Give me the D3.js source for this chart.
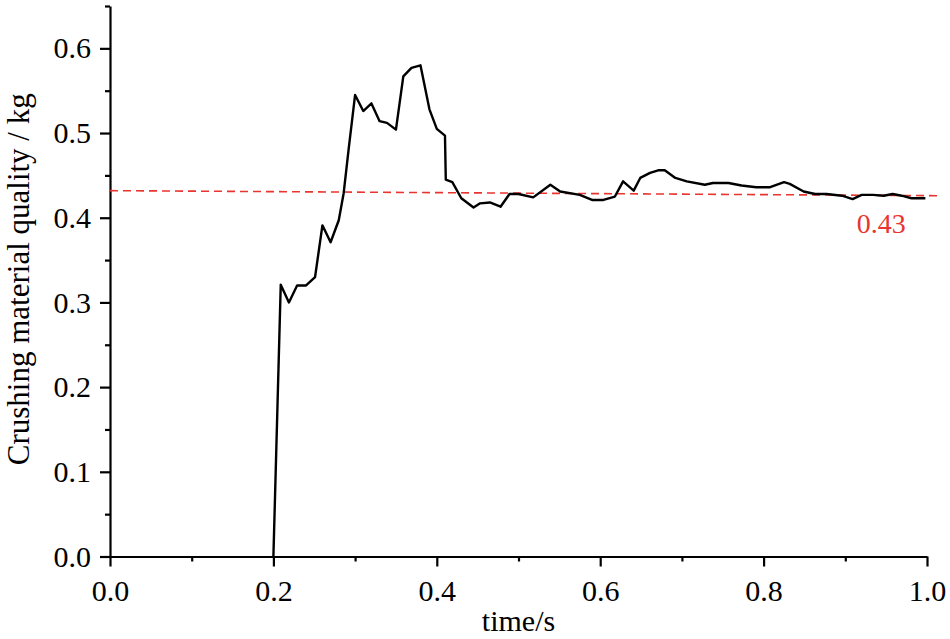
<!DOCTYPE html>
<html>
<head>
<meta charset="utf-8">
<script src="https://cdn.jsdelivr.net/npm/d3@7/dist/d3.min.js"></script>
<style>
  html, body { margin: 0; padding: 0; background: #fff; }
  svg { display: block; }
  svg text { font-family: "Times New Roman", Times, "Liberation Serif", "DejaVu Serif", serif !important; }
</style>
</head>
<body>
<svg id="chart" width="950" height="639"></svg>
<script>
// ---- data ----
const times = [0.200, 0.209, 0.219, 0.229, 0.240, 0.251, 0.260, 0.270, 0.280, 0.286,
  0.292, 0.300, 0.310, 0.320, 0.330, 0.339, 0.350, 0.359, 0.369, 0.380,
  0.391, 0.400, 0.410, 0.411, 0.419, 0.430, 0.445, 0.453, 0.465, 0.478,
  0.489, 0.500, 0.518, 0.539, 0.551, 0.575, 0.590, 0.604, 0.618, 0.628,
  0.641, 0.649, 0.661, 0.671, 0.679, 0.692, 0.706, 0.728, 0.738, 0.747,
  0.757, 0.773, 0.791, 0.808, 0.825, 0.832, 0.849, 0.863, 0.877, 0.896,
  0.909, 0.920, 0.934, 0.947, 0.958, 0.969, 0.981, 0.998];
const mass = [0.000, 0.321, 0.300, 0.320, 0.320, 0.330, 0.391, 0.371, 0.397, 0.429,
  0.480, 0.545, 0.526, 0.535, 0.514, 0.512, 0.504, 0.567, 0.577, 0.580,
  0.528, 0.505, 0.497, 0.445, 0.442, 0.423, 0.412, 0.417, 0.418, 0.413,
  0.428, 0.428, 0.424, 0.439, 0.431, 0.427, 0.421, 0.421, 0.425, 0.443,
  0.432, 0.447, 0.453, 0.456, 0.456, 0.447, 0.443, 0.439, 0.441, 0.441,
  0.441, 0.438, 0.436, 0.436, 0.442, 0.440, 0.431, 0.428, 0.428, 0.426,
  0.422, 0.427, 0.427, 0.426, 0.428, 0.426, 0.423, 0.423];
const refTimes = [0, 1.014];
const refValues = [0.432, 0.426];
const refLabel = "0.43";
const xTicks = [0, 0.2, 0.4, 0.6, 0.8, 1.0];
const xMinorTicks = [0.1, 0.3, 0.5, 0.7, 0.9];
const yTicks = [0, 0.1, 0.2, 0.3, 0.4, 0.5, 0.6];
const yMinorTicks = [0.05, 0.15, 0.25, 0.35, 0.45, 0.55, 0.65];
const xTitle = "time/s";
const yTitle = "Crushing material quality / kg";

// ---- layout ----
const svg = d3.select("#chart");
const mLeft = 110, mRight = 927, mTop = 6, mBottom = 556.5;
const x = d3.scaleLinear().domain([0, 1]).range([mLeft, mRight]);
const y = d3.scaleLinear().domain([0, 0.65]).range([mBottom, mTop]);

const fmt = d3.format(".1f");
const axisW = 2.2;
const serif = "'Times New Roman', Times, 'Liberation Serif', 'DejaVu Serif', serif";

// x axis
const gx = svg.append("g").attr("transform", `translate(0,${mBottom})`);
gx.call(d3.axisBottom(x).tickValues(xTicks).tickFormat(fmt).tickSize(10).tickSizeOuter(0).tickPadding(13));
gx.append("g").call(d3.axisBottom(x).tickValues(xMinorTicks).tickFormat("").tickSize(5).tickSizeOuter(0))
  .select(".domain").remove();

// y axis
const gy = svg.append("g").attr("transform", `translate(${mLeft},0)`);
gy.call(d3.axisLeft(y).tickValues(yTicks).tickFormat(fmt).tickSize(10).tickSizeOuter(0).tickPadding(9));
gy.append("g").call(d3.axisLeft(y).tickValues(yMinorTicks).tickFormat("").tickSize(5).tickSizeOuter(0))
  .select(".domain").remove();

svg.selectAll("g").attr("font-family", serif);
svg.selectAll(".domain").attr("stroke", "#000").attr("stroke-width", axisW);
svg.selectAll(".tick line").attr("stroke", "#000").attr("stroke-width", axisW);
svg.selectAll(".tick text").attr("font-size", 30).attr("fill", "#000")
  .attr("font-family", serif);

// reference dashed line
const refData = refTimes.map((t, i) => ({t, v: refValues[i]}));
svg.append("path")
  .datum(refData)
  .attr("fill", "none")
  .attr("stroke", "#e8352f")
  .attr("stroke-width", 1.6)
  .attr("stroke-dasharray", "8,5")
  .attr("d", d3.line().x(d => x(d.t)).y(d => y(d.v)));

// data line
const data = times.map((t, i) => ({t, v: mass[i]}));
svg.append("path")
  .datum(data)
  .attr("fill", "none")
  .attr("stroke", "#000")
  .attr("stroke-width", 2.4)
  .attr("stroke-linejoin", "round")
  .attr("d", d3.line().x(d => x(d.t)).y(d => y(d.v)));

// ref label
svg.append("text")
  .attr("x", x(0.944)).attr("y", y(refValues[0]) + 42)
  .attr("text-anchor", "middle")
  .attr("font-family", serif)
  .attr("font-size", 28)
  .attr("fill", "#e8352f")
  .text(refLabel);

// titles
svg.append("text")
  .attr("x", (mLeft + mRight) / 2).attr("y", 631)
  .attr("text-anchor", "middle")
  .attr("font-family", serif)
  .attr("font-size", 30)
  .text(xTitle);

svg.append("text")
  .attr("transform", `translate(29,${(mTop + mBottom) / 2 - 2}) rotate(-90)`)
  .attr("text-anchor", "middle")
  .attr("font-family", serif)
  .attr("font-size", 31)
  .text(yTitle);
</script>
</body>
</html>
